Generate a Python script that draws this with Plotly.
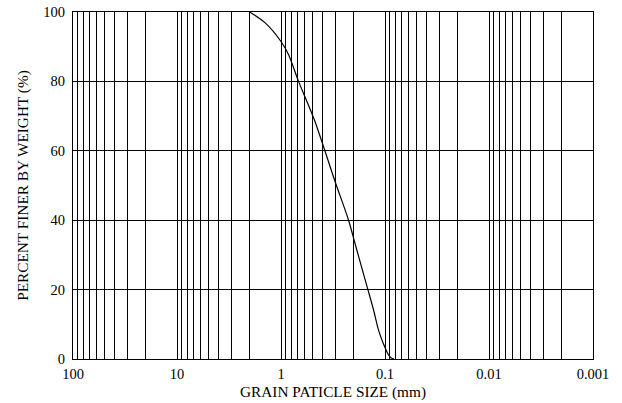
import plotly.graph_objects as go

# Grain size distribution (sieve + hydrometer)
particle_size_mm = [2.0, 1.41, 1.0, 0.845, 0.678, 0.479, 0.301, 0.224, 0.191,
                    0.146, 0.129, 0.1156, 0.1036, 0.1, 0.093, 0.087, 0.082]
percent_finer = [100, 96.8, 91.5, 87.7, 80, 69, 51, 40, 32.5,
                 20, 14.2, 8.4, 4.4, 3.3, 1.3, 0.3, 0]

x_tick_vals = [100, 10, 1, 0.1, 0.01, 0.001]
x_tick_text = ["100", "10", "1", "0.1", "0.01", "0.001"]
y_tick_vals = [0, 20, 40, 60, 80, 100]

# 2..9 subdivisions within each decade
minor_vals = [m * 10.0 ** e for e in range(-3, 2) for m in range(2, 10)]

font_family = "Liberation Serif, Times New Roman, serif"
tick_font = dict(family=font_family, size=14.5, color="black")
title_font = dict(family=font_family, size=15.3, color="black")

fig = go.Figure()
fig.add_trace(go.Scatter(
    x=particle_size_mm, y=percent_finer,
    mode="lines",
    line=dict(color="black", width=1.2, shape="spline", smoothing=0.8),
    showlegend=False,
    hoverinfo="skip",
))

fig.update_xaxes(
    type="log",
    range=[2, -3],
    tickmode="array",
    tickvals=x_tick_vals,
    ticktext=x_tick_text,
    ticks="inside",
    ticklen=15,
    tickcolor="black",
    tickwidth=1,
    showgrid=True,
    gridcolor="black",
    gridwidth=1,
    minor=dict(
        tickvals=minor_vals,
        ticks="inside",
        ticklen=8,
        tickcolor="black",
        showgrid=True,
        gridcolor="black",
        gridwidth=1,
    ),
    showline=True,
    linecolor="black",
    linewidth=1,
    mirror=True,
    zeroline=False,
    automargin=False,
    ticklabelstandoff=2,
    title=dict(text="GRAIN PATICLE SIZE (mm)", standoff=4, font=title_font),
    tickfont=tick_font,
)

fig.update_yaxes(
    range=[0, 100],
    tickmode="array",
    tickvals=y_tick_vals,
    ticks="inside",
    ticklen=15,
    tickcolor="black",
    tickwidth=1,
    showgrid=True,
    gridcolor="black",
    gridwidth=1,
    showline=True,
    linecolor="black",
    linewidth=1,
    mirror=True,
    zeroline=False,
    automargin=False,
    ticklabelstandoff=4,
    title=dict(text="PERCENT FINER BY WEIGHT (%)", standoff=10, font=title_font),
    tickfont=tick_font,
)

fig.update_layout(
    width=622,
    height=403,
    margin=dict(l=73, r=29, t=12, b=44),
    paper_bgcolor="white",
    plot_bgcolor="white",
    font=dict(family=font_family, color="black"),
)

fig.write_html("out.html")
